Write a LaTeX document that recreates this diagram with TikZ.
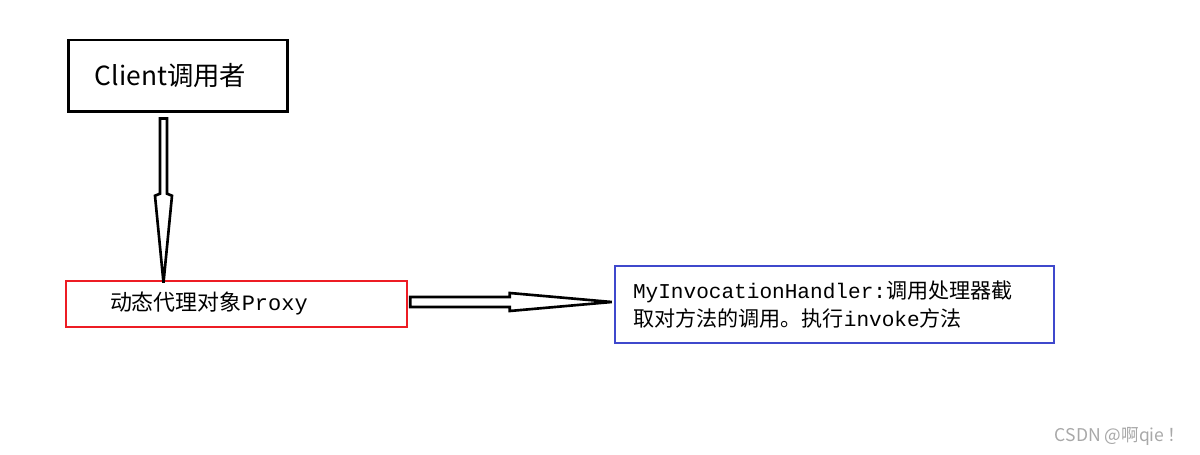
\documentclass[tikz,border=0pt]{standalone}
\usepackage{fontspec}
\usepackage{xcolor}
\usepackage{tikz}
\usetikzlibrary{calc,positioning}
\newfontfamily\cjk{Noto Sans CJK SC}
\newfontfamily\mono{Liberation Mono}
\definecolor{paintred}{HTML}{ED1C24}
\definecolor{paintblue}{HTML}{3F48CC}
\definecolor{markgray}{HTML}{A8A8A8}
\tikzset{
  clientbox/.style={
    rectangle, draw=black, line width=1.7pt,
    minimum width=4.4cm, minimum height=1.44cm,
    font=\cjk\fontsize{15pt}{17pt}\selectfont, align=center
  },
  proxybox/.style={
    rectangle, draw=paintred, line width=1.5pt,
    minimum width=6.82cm, minimum height=0.92cm,
    inner xsep=0.88cm, text width=5.06cm, align=left,
    font=\cjk\fontsize{12.5pt}{16pt}\selectfont
  },
  handlerbox/.style={
    rectangle, draw=paintblue, line width=1.5pt,
    minimum width=8.78cm, minimum height=1.54cm,
    inner xsep=0.36cm, text width=8.06cm, align=left,
    font=\cjk\fontsize{12pt}{16pt}\selectfont
  },
  hollowarrow/.style={draw=black, line width=1.5pt, fill=white, line join=miter},
  watermark/.style={text=markgray, font=\cjk\fontsize{10pt}{12pt}\selectfont}
}
\begin{document}
\begin{tikzpicture}[x=0.02cm, y=-0.02cm]
  \useasboundingbox (0,0) rectangle (1200,455);
  % boxes
  \node[clientbox] (client) at (178,76) {\hspace*{-0.3cm}Client调用者};
  \node[proxybox] (proxy) at (236.5,304) {\raisebox{-2pt}{动态代理对象{\mono Proxy}}};
  \node[handlerbox] (handler) at (834.5,304.5)
    {{\mono MyInvocationHandler:}调用处理器截\\取对方法的调用。执行{\mono invoke}方法};
  % client -> proxy
  \coordinate (callstart) at ($(client.south)+(-14.5,5)$);
  \coordinate (calltip) at (callstart |- proxy.north);
  \draw[hollowarrow] ($(callstart)+(-3.5,0)$) -- ($(callstart)+(3.5,0)$)
    -- ($(calltip)+(3.5,-86)$) -- ($(calltip)+(8.5,-84)$) -- ($(calltip)+(0,3)$)
    -- ($(calltip)+(-8.5,-84)$) -- ($(calltip)+(-3.5,-86)$) -- cycle;
  % proxy -> handler
  \coordinate (invstart) at ($(proxy.east)+(2,-2)$);
  \coordinate (invtip) at (handler.west |- invstart);
  \draw[hollowarrow] ($(invstart)+(0,-5)$) -- ($(invtip)+(-104,-5)$)
    -- ($(invtip)+(-104,-9)$) -- ($(invtip)+(-2,0)$) -- ($(invtip)+(-104,9)$)
    -- ($(invtip)+(-104,5)$) -- ($(invstart)+(0,5)$) -- cycle;
  \node[watermark] (mark) at (1120,436) {CSDN @啊qie\,！};
\end{tikzpicture}
\end{document}
